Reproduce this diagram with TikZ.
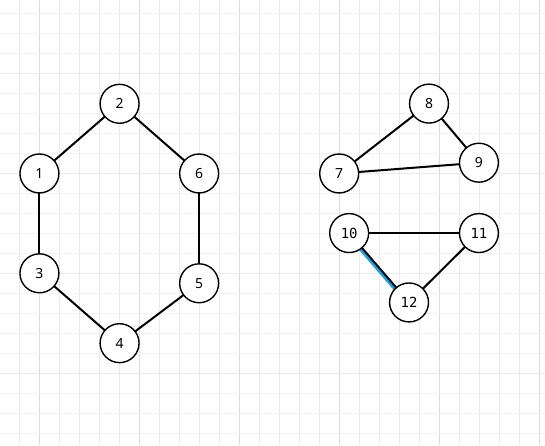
\documentclass[tikz,border=0pt]{standalone}
\usepackage{fontspec}
\setmainfont{Noto Sans}
\newfontfamily\monof{DejaVu Sans Mono}
\pgfdeclarelayer{edges}
\pgfsetlayers{edges,main}
\definecolor{hlblue}{RGB}{20,165,230}
\begin{document}
\begin{tikzpicture}[x=1bp,y=-1bp,
  vx/.style={circle,draw=black,line width=1.4bp,fill=white,minimum size=39bp,inner sep=0pt,font=\fontsize{14}{14}\selectfont},
  mx/.style={vx,font=\fontsize{14}{14}\monof},
  ed/.style={line width=2bp,black},
  hl/.style={line width=4bp,color=hlblue},
  minv/.style={line width=1bp,color=black!8},
  majv/.style={line width=1bp,color=black!14},
  minh/.style={line width=1bp,color=black!5},
  majh/.style={line width=1bp,color=black!8}]
\begin{pgfonlayer}{edges}
\fill[white] (0,0) rectangle (545,445);
\foreach \i in {0,...,26} {
  \pgfmathsetmacro{\xx}{19.5+20*\i}
  \pgfmathtruncatemacro{\m}{mod(\i,5)}
  \ifnum\m=1 \draw[majv] (\xx,0) -- (\xx,445); \else \draw[minv] (\xx,0) -- (\xx,445); \fi
}
\foreach \i in {0,...,21} {
  \pgfmathsetmacro{\yy}{13.5+20*\i}
  \pgfmathtruncatemacro{\m}{mod(\i,5)}
  \ifnum\m=3 \draw[majh] (0,\yy) -- (545,\yy); \else \draw[minh] (0,\yy) -- (545,\yy); \fi
}
\end{pgfonlayer}
\useasboundingbox (0,0) rectangle (545,445);
% nodes
\node[vx] (n1) at (39,173.3) {1};
\node[vx] (n2) at (119.3,103.5) {2};
\node[vx] (n6) at (199,173.3) {6};
\node[vx] (n3) at (39,273.3) {3};
\node[vx] (n4) at (119.3,343.3) {4};
\node[vx] (n5) at (199,283.3) {5};
\node[vx] (n7) at (339.3,173.3) {7};
\node[vx] (n8) at (429.3,103.3) {8};
\node[vx] (n9) at (479.3,162.5) {9};
\node[mx] (n10) at (349.3,233) {10};
\node[mx] (n11) at (479.3,233) {11};
\node[mx] (n12) at (409.3,302.5) {12};
% edges
\begin{pgfonlayer}{edges}
\draw[ed] (n1.center) -- (n2.center);
\draw[ed] (n2.center) -- (n6.center);
\draw[ed] (n6.center) -- (n5.center);
\draw[ed] (n5.center) -- (n4.center);
\draw[ed] (n4.center) -- (n3.center);
\draw[ed] (n3.center) -- (n1.center);
\draw[ed] (n7.center) -- (n8.center);
\draw[ed] (n8.center) -- (n9.center);
\draw[ed] (n9.center) -- (n7.center);
\draw[ed] (n10.center) -- (n11.center);
\draw[ed] (n11.center) -- (n12.center);
\draw[hl] ([shift={(-1.2,1)}]n10.center) -- ([shift={(-1.2,1)}]n12.center);
\draw[ed] (n10.center) -- (n12.center);
\end{pgfonlayer}
\end{tikzpicture}
\end{document}
